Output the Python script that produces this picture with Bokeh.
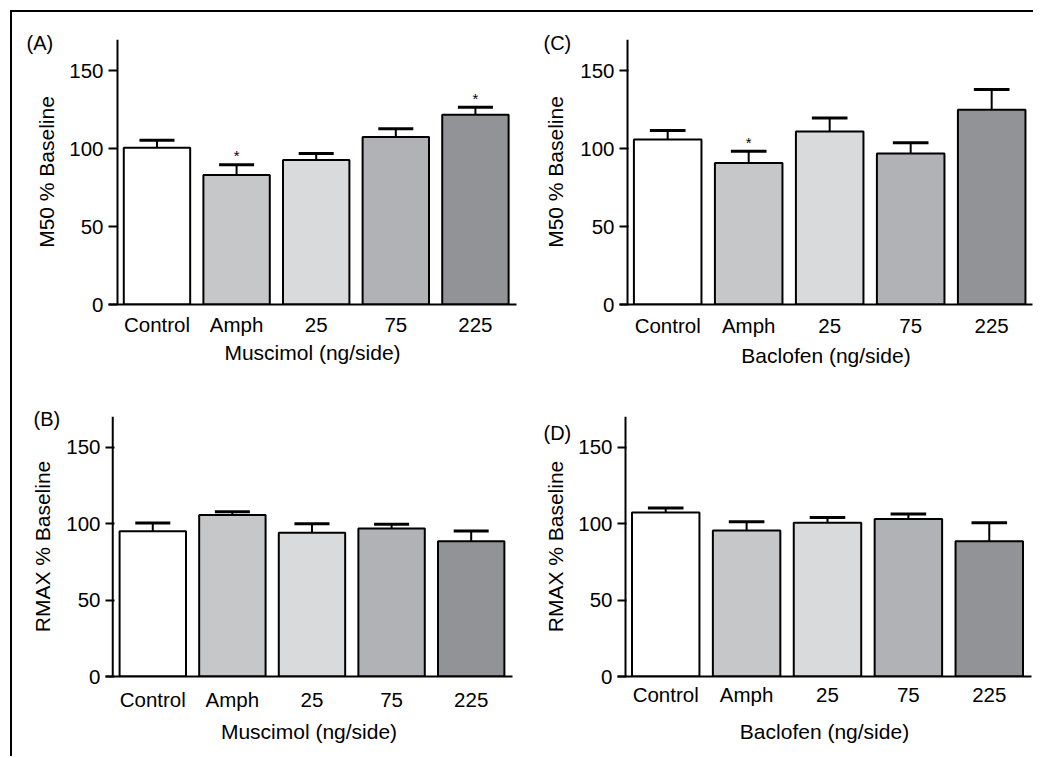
from bokeh.plotting import figure
from bokeh.models import Div, Spacer, FixedTicker, ColumnDataSource, Span, Title
from bokeh.layouts import row, column
from bokeh.embed import file_html
from bokeh.resources import INLINE
from bokeh.core.properties import value

# ---------------- data ----------------
categories = ["Control", "Amph", "25", "75", "225"]
bar_colors = ["#ffffff", "#c6c7c9", "#d9dadc", "#b1b2b5", "#929397"]

# (A) M50 % baseline, muscimol
a_mean = [100.6, 83.1, 92.7, 107.5, 121.8]
a_sem = [4.7, 6.6, 4.1, 5.3, 4.7]
a_sig = ["", "*", "", "", "*"]

# (B) RMAX % baseline, muscimol
b_mean = [94.9, 105.6, 94.0, 96.8, 88.5]
b_sem = [5.5, 2.1, 5.8, 2.8, 6.6]
b_sig = ["", "", "", "", ""]

# (C) M50 % baseline, baclofen
c_mean = [105.9, 90.7, 111.0, 96.8, 124.9]
c_sem = [5.7, 7.6, 8.6, 7.0, 13.1]
c_sig = ["", "*", "", "", ""]

# (D) RMAX % baseline, baclofen
d_mean = [107.3, 95.5, 100.6, 102.9, 88.4]
d_sem = [2.9, 5.7, 3.3, 3.3, 12.2]
d_sig = ["", "", "", "", ""]

y_ticks = [0, 50, 100, 150]

FONT = "Liberation Sans"


def panel(tag, means, sems, sig, ylabel, xlabel, width, height, borders,
          xr, yaxis_at, tag_offset, tag_standoff, tick_standoff, label_standoff,
          ylabel_standoff):
    bl, br, bt, bb = borders
    p = figure(width=width, height=height, output_backend="svg",
               toolbar_location=None, x_range=xr, y_range=(0, 170),
               min_border_left=bl, min_border_right=br,
               min_border_top=bt, min_border_bottom=bb)
    p.outline_line_color = None
    p.xgrid.grid_line_color = None
    p.ygrid.grid_line_color = None
    p.background_fill_color = "white"
    p.border_fill_color = "white"

    idx = list(range(len(categories)))
    tops = [m + s for m, s in zip(means, sems)]
    src = ColumnDataSource(dict(x=idx, mean=means, top=tops, color=bar_colors,
                                cl=[i - 0.22 for i in idx], cr=[i + 0.22 for i in idx],
                                sig=sig))
    # error stems (drawn under bars so only the upper part shows)
    p.segment(x0="x", y0="mean", x1="x", y1="top", source=src,
              line_color="black", line_width=2)
    p.vbar(x="x", top="mean", bottom=0, width=0.834, source=src,
           fill_color="color", line_color="black", line_width=2)
    p.segment(x0="cl", y0="top", x1="cr", y1="top", source=src,
              line_color="black", line_width=3)
    p.text(x="x", y="top", text="sig", source=src, text_align="center",
           text_baseline="middle", y_offset=-9, text_font=value(FONT),
           text_font_size="15px", text_color="black")

    # y axis: labels at the frame edge, ticks pointing inward to the axis rule
    yax = p.yaxis[0]
    yax.ticker = FixedTicker(ticks=y_ticks)
    yax.minor_tick_line_color = None
    yax.axis_line_color = None
    yax.major_tick_in = 9
    yax.major_tick_out = 0
    yax.major_tick_line_width = 2
    yax.major_label_standoff = 5
    yax.major_label_text_font = FONT
    yax.major_label_text_font_size = "20.5px"
    yax.major_label_text_color = "black"
    yax.axis_label = ylabel
    yax.axis_label_text_font = FONT
    yax.axis_label_text_font_size = "21px"
    yax.axis_label_text_font_style = "normal"
    yax.axis_label_text_color = "black"
    yax.axis_label_standoff = ylabel_standoff
    p.add_layout(Span(location=yaxis_at, dimension="height",
                      line_color="black", line_width=2))

    xax = p.xaxis[0]
    xax.ticker = FixedTicker(ticks=idx)
    xax.major_label_overrides = {i: c for i, c in zip(idx, categories)}
    xax.major_tick_line_color = None
    xax.minor_tick_line_color = None
    xax.major_tick_out = 0
    xax.major_tick_in = 0
    xax.axis_line_width = 2
    xax.major_label_standoff = tick_standoff
    xax.major_label_text_font = FONT
    xax.major_label_text_font_size = "20.5px"
    xax.major_label_text_color = "black"
    xax.axis_label = xlabel
    xax.axis_label_text_font = FONT
    xax.axis_label_text_font_size = "21px"
    xax.axis_label_text_font_style = "normal"
    xax.axis_label_text_color = "black"
    xax.axis_label_standoff = label_standoff

    p.add_layout(Title(text=tag, align="left", offset=tag_offset,
                       standoff=tag_standoff, text_font=FONT,
                       text_font_size="20px", text_font_style="normal",
                       text_color="black"), "above")
    return p


pA = panel("(A)", a_mean, a_sem, a_sig, "M50 % Baseline", "Muscimol (ng/side)",
           508, 368, (96, 4, 27, 76), (-0.609, 4.516), -0.496, -82, -29, 8, 2, 8)
pC = panel("(C)", c_mean, c_sem, c_sig, "M50 % Baseline", "Baclofen (ng/side)",
           513, 368, (99, 1, 27, 73), (-0.595, 4.504), -0.496, -76, -29, 9, 4, 10)
pB = panel("(B)", b_mean, b_sem, b_sig, "RMAX % Baseline", "Muscimol (ng/side)",
           508, 370, (93, 8, 36, 69), (-0.594, 4.519), -0.503, -72, -26, 11, 6, 9)
pD = panel("(D)", d_mean, d_sem, d_sig, "RMAX % Baseline", "Baclofen (ng/side)",
           513, 370, (97, 2, 27, 74), (-0.596, 4.522), -0.497, -74, -55, 6, 11, 8)

grid = column(row(pA, pC, spacing=0), row(pB, pD, spacing=0), spacing=0)

top_line = Div(text="", width=1023, height=2, margin=0,
               styles={"background-color": "black"})
left_line = Div(text="", width=2, height=744, margin=0,
                styles={"background-color": "black"})

layout = column(
    Spacer(width=1033, height=10, margin=0),
    row(Spacer(width=10, height=2, margin=0), top_line, spacing=0),
    row(Spacer(width=10, height=744, margin=0), left_line, grid, spacing=0),
    spacing=0,
)

open("out.html", "w").write(file_html(layout, INLINE))
